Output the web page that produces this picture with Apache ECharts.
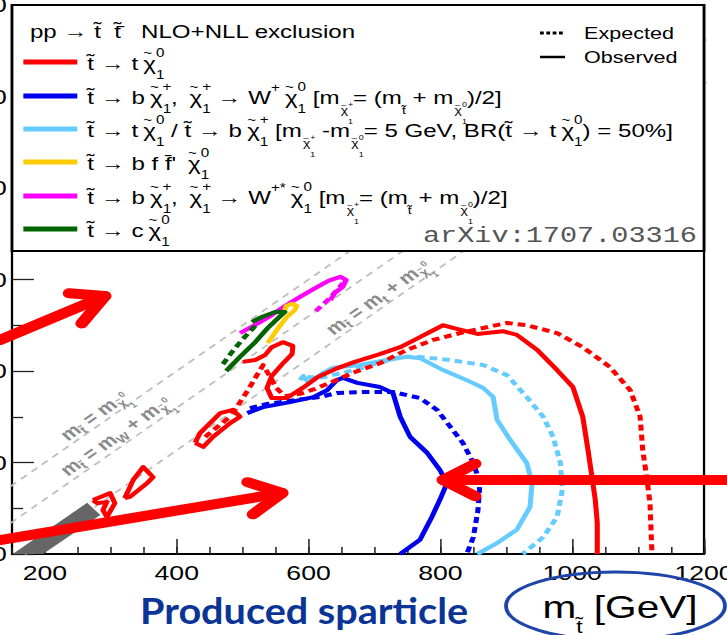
<!DOCTYPE html>
<html>
<head>
<meta charset="utf-8">
<script src="https://cdn.jsdelivr.net/npm/echarts@6/dist/echarts.min.js"></script>
<style>
  html, body { margin: 0; padding: 0; background: #fff; overflow: hidden; }
  #wrap { width: 727px; height: 635px; overflow: hidden; position: relative; background: #fff; }
  /* the summary plot is laid out at 573 px and widened to the 727 px slide width */
  #chart { width: 573px; height: 635px; transform: scaleX(1.268761); transform-origin: 0 0; }
</style>
</head>
<body>
<div id="wrap"><div id="chart"></div></div>
<script>
// ---------------- axes ----------------
const xRange = [150, 1200];
const yRange = [0, 1200];
const xMajorTicks = [200, 400, 600, 800, 1000, 1200];
const xMinorTicks = [150, 200, 250, 300, 350, 400, 450, 500, 550, 600, 650, 700, 750, 800, 850, 900, 950, 1000, 1050, 1100, 1150, 1200];
const yTickStep = 200;

// kinematic boundaries m_stop - m_LSP = offset (GeV)
const kinStop = [100, 1300];
const offEqual = 0;
const offW = 80.4;
const offTop = 173.1;

// ---------------- exclusion contours [m_stop, m_LSP] ----------------
// stop -> t chi0 (red)
const t2ttObs = [[500,420],[519,424],[534,435],[544,452],[561,463],[576,455],[575,437],[560,415],[544,389],[537,363],[544,341],[567,341],[591,363],[614,387],[640,404],[670,420],[708,437],[739,452],[758,466],[781,483],[804,500],[825,492],[856,481],[895,487],[916,479],[947,446],[977,402],[1001,365],[1016,300],[1024,227],[1030,168],[1035,118],[1038,68],[1038,0]];
const t2ttExp = [[484,306],[496,332],[508,358],[520,387],[531,413],[541,389],[551,363],[564,345],[587,350],[610,361],[632,374],[667,396],[708,417],[749,446],[789,468],[830,483],[865,494],[901,505],[931,500],[977,483],[1016,452],[1057,409],[1088,358],[1103,300],[1107,227],[1113,168],[1118,111],[1121,0]];
const t2ttIslandA = [[273,118],[299,133],[306,111],[294,81],[288,96],[294,114],[279,111],[273,118]];
const t2ttIslandB = [[321,122],[334,162],[349,190],[364,168],[355,155],[329,125],[321,122]];
const t2ttIslandC = [[428,243],[435,264],[466,308],[485,315],[496,300],[481,286],[455,256],[440,234],[428,243]];
const t2ttIslandCExp = [[443,256],[478,297]];
// stop -> b chargino, chargino -> W chi0 (blue)
const t6bbwwObs = [[507,308],[531,321],[572,332],[607,343],[628,358],[643,380],[652,385],[674,374],[708,365],[728,352],[739,300],[754,256],[780,221],[799,184],[810,155],[799,118],[787,81],[769,31],[739,0]];
const t6bbwwExp = [[511,319],[537,328],[582,337],[617,343],[643,352],[683,354],[728,354],[769,341],[795,315],[815,278],[834,243],[850,199],[860,155],[857,96],[850,37],[840,0]];
// mixed t chi0 / b chargino (light blue)
const t2tbObs = [[587,380],[592,389],[599,376],[607,380],[622,396],[637,407],[678,413],[719,424],[749,431],[769,428],[804,402],[840,380],[865,363],[880,343],[886,293],[906,249],[931,199],[939,155],[936,103],[916,53],[886,24],[856,0]];
const t2tbExp = [[598,387],[617,385],[658,398],[708,418],[739,431],[765,431],[789,428],[815,424],[865,413],[901,391],[931,343],[956,300],[971,256],[982,199],[985,140],[977,81],[956,37],[925,0]];
// four-body (yellow)
const t2bffObs = [[538,461],[552,490],[567,518],[579,533],[582,542],[575,547],[566,542],[563,529]];
// off-shell W (magenta)
const t6wStarObs = [[496,483],[519,501],[542,520],[564,542],[587,562],[610,581],[630,597],[648,606],[657,599],[652,584],[640,571],[633,555]];
const t6wStarExp = [[611,531],[623,547],[634,562],[643,577],[652,592],[645,608]];
// stop -> c chi0 (green)
const t2ccObs = [[475,400],[496,431],[519,463],[538,494],[557,520],[564,529],[549,529],[529,518],[514,507]];
const t2ccExp = [[470,415],[484,442],[499,468],[516,494],[523,505]];
// region not covered near the top-mass corridor
const corridor = [[151,0],[264,112],[284,85],[197,0]];

// ---------------- style ----------------
const S = 727 / 573;             // horizontal widening of the plot
const FONT = '"Liberation Sans", Arial, Helvetica, sans-serif';
const RED = '#ff0000', BLUE = '#0000f0', LBLUE = '#66ccff', YELLOW = '#ffcc00', MAGENTA = '#ff00ff', GREEN = '#006400';
const DOT = [6, 4];

function contour(data, color, dashed, z) {
  return {
    type: 'line', data: data, xAxisIndex: 0, yAxisIndex: 0,
    showSymbol: false, symbol: 'none', clip: true, silent: true, z: z || 3,
    lineStyle: { color: color, width: 4, type: dashed ? DOT : 'solid', cap: 'butt', join: 'round' }
  };
}
function kinLine(off) {
  return {
    type: 'line', data: kinStop.map(s => [s, s - off]), showSymbol: false, symbol: 'none',
    clip: true, silent: true, z: 1,
    lineStyle: { color: '#bdbdbd', width: 1.6, type: [6, 5] }
  };
}
const plain = v => String(v);

const chart = echarts.init(document.getElementById('chart'), null, { renderer: 'svg' });

chart.setOption({
  animation: false,
  backgroundColor: '#fff',
  grid: { left: 9.46, right: 18.1, top: 5, bottom: 81, containLabel: false, outerBoundsMode: 'none',
          show: true, borderColor: '#000', borderWidth: 1.8, backgroundColor: '#fff' },
  xAxis: [
    {
      type: 'value', min: xRange[0], max: xRange[1], position: 'bottom',
      axisLine: { show: false }, splitLine: { show: false },
      axisTick: { show: true, inside: true, length: 15, customValues: xMajorTicks, lineStyle: { color: '#222', width: 1.2 } },
      axisLabel: { customValues: xMajorTicks, formatter: plain, margin: 8, fontSize: 21, color: '#000', fontFamily: FONT }
    },
    {
      type: 'value', min: xRange[0], max: xRange[1], position: 'bottom',
      axisLine: { show: false }, splitLine: { show: false }, axisLabel: { show: false },
      axisTick: { show: true, inside: true, length: 7, customValues: xMinorTicks, lineStyle: { color: '#222', width: 1.2 } }
    }
  ],
  yAxis: {
    type: 'value', min: yRange[0], max: yRange[1], interval: yTickStep,
    axisLine: { show: false }, splitLine: { show: false },
    axisTick: { show: true, inside: true, length: 17.3, lineStyle: { color: '#222', width: 1.3 } },
    minorTick: { show: true, splitNumber: 2, length: 8.7, lineStyle: { color: '#222', width: 1.3 } },
    minorSplitLine: { show: false },
    axisLabel: { formatter: plain, margin: 4, fontSize: 21, color: '#000', fontFamily: FONT }
  },
  series: [
    kinLine(offEqual), kinLine(offW), kinLine(offTop),
    {
      type: 'custom', silent: true, z: 2, data: [0],
      renderItem: function (params, api) {
        return { type: 'polygon', shape: { points: corridor.map(p => api.coord(p)) }, style: { fill: '#666666' } };
      }
    },
    contour(t2tbExp, LBLUE, true), contour(t2tbObs, LBLUE, false),
    contour(t6bbwwExp, BLUE, true), contour(t6bbwwObs, BLUE, false),
    contour(t2ttExp, RED, true, 4), contour(t2ttObs, RED, false, 4),
    contour(t2ttIslandA, RED, false, 4), contour(t2ttIslandB, RED, false, 4),
    contour(t2ttIslandC, RED, false, 4), contour(t2ttIslandCExp, RED, true, 4),
    contour(t6wStarExp, MAGENTA, true), contour(t6wStarObs, MAGENTA, false),
    contour(t2bffObs, YELLOW, false),
    contour(t2ccExp, GREEN, true, 5), contour(t2ccObs, GREEN, false, 5)
  ]
});

// ---------------- legend, labels and annotations ----------------
const px = p => chart.convertToPixel({ xAxisIndex: 0, yAxisIndex: 0 }, p);

const H = 60;
// a small rich-text piece whose centre sits d px below the main text centre
function tok(fs, d, extra, padLeft) {
  return Object.assign({ fontSize: fs, lineHeight: fs, fontFamily: FONT, verticalAlign: 'bottom',
                         padding: [0, 0, H / 2 - d - fs / 2, padLeft || 0] }, extra || {});
}
const ZW = { width: 0.001 };   // zero advance: the next piece is stacked under it
const legendRich = {
  n: { fontSize: 19, lineHeight: H, fontFamily: FONT, verticalAlign: 'middle' },
  tl: tok(12, -10, ZW, 4),
  Z: tok(12, -10, ZW),
  ci: tok(12, 12),
  ws: tok(12, -9),
  ms: tok(11, 14),
  mt: tok(8, 8, ZW, 1),
  mz: tok(7, 8, ZW),
  mi: tok(7, 25)
};
const T = 't\u0303', AR = '\u2192', NB = '\u00A0';
const X = '{tl|~}{n|\u03C7}';
const XS = '{mt|~}{ms|\u03C7}';
const chi0 = `${X}{Z|0}{ci|1}`;
const chiP = `${X}{Z|+}{ci|1}`;
const mChiP = `{n|m}${XS}{mz|+}{mi|1}`;
const mChi0 = `{n|m}${XS}{mz|0}{mi|1}`;
const mT = `{n|m}{ms|${T}}`;

const legendTitle = `{n|pp ${AR} ${T}${NB} t\u0303\u0304${NB}${NB} NLO+NLL exclusion}`;
const legendRows = [
  { color: RED, text: `{n|${T} ${AR} t}${chi0}` },
  { color: BLUE, text: `{n|${T} ${AR} b}${chiP}{n|, }${chiP}{n| ${AR} W}{ws|+}${chi0}{n| [}${mChiP}{n|= (}${mT}{n| + }${mChi0}{n|)/2]}` },
  { color: LBLUE, text: `{n|${T} ${AR} t}${chi0}{n| / ${T} ${AR} b}${chiP}{n| [}${mChiP}{n| -}${mChi0}{n|= 5 GeV, BR(${T} ${AR} t}${chi0}{n|) = 50%]}` },
  { color: YELLOW, text: `{n|${T} ${AR} b f f\u0304' }${chi0}` },
  { color: MAGENTA, text: `{n|${T} ${AR} b}${chiP}{n|, }${chiP}{n| ${AR} W}{ws|+*}${chi0}{n| [}${mChiP}{n|= (}${mT}{n| + }${mChi0}{n|)/2]}` },
  { color: GREEN, text: `{n|${T} ${AR} c}${chi0}` }
];
const rowY = [62, 96, 129, 162, 196, 229];

const g = [];
// legend frame
g.push({ type: 'rect', z: 20, shape: { x: 9.46, y: 5, width: 545.4, height: 246 }, style: { fill: '#fff', stroke: '#000', lineWidth: 2.2 } });
g.push({ type: 'text', z: 21, x: 23.6, y: 31, style: { text: legendTitle, rich: legendRich, fontFamily: FONT, fontSize: 19, fill: '#000', align: 'left', verticalAlign: 'middle' } });
legendRows.forEach((r, i) => {
  g.push({ type: 'line', z: 21, shape: { x1: 18.4, y1: rowY[i], x2: 60.9, y2: rowY[i] }, style: { stroke: r.color, lineWidth: 5 } });
  g.push({ type: 'text', z: 21, x: 68.8, y: rowY[i] + 1, style: { text: r.text, rich: legendRich, fontFamily: FONT, fontSize: 19, fill: '#000', align: 'left', verticalAlign: 'middle' } });
});
// line-style keys
g.push({ type: 'line', z: 21, shape: { x1: 425.6, y1: 33, x2: 445.3, y2: 33 }, style: { stroke: '#000', lineWidth: 3, lineDash: [3, 2] } });
g.push({ type: 'text', z: 21, x: 460.3, y: 33, style: { text: 'Expected', fontFamily: FONT, fontSize: 17, fill: '#000', align: 'left', verticalAlign: 'middle' } });
g.push({ type: 'line', z: 21, shape: { x1: 425.6, y1: 57, x2: 445.3, y2: 57 }, style: { stroke: '#000', lineWidth: 2.5 } });
g.push({ type: 'text', z: 21, x: 460.3, y: 57, style: { text: 'Observed', fontFamily: FONT, fontSize: 17, fill: '#000', align: 'left', verticalAlign: 'middle' } });
g.push({ type: 'text', z: 21, x: 549.3, y: 236, style: { text: 'arXiv:1707.03316', fontFamily: '"Liberation Mono", "DejaVu Sans Mono", monospace', fontSize: 22.5, fill: '#555', align: 'right', verticalAlign: 'middle' } });

// labels along the kinematic boundaries
const GC = '#8a8a8a';
const diagRich = {
  g: { fontSize: 17, lineHeight: H, fontWeight: 'bold', fontFamily: FONT, verticalAlign: 'middle', color: GC },
  s: tok(11, 6, { fontWeight: 'bold', color: GC }),
  t: tok(8, 1, { width: 0.001, fontWeight: 'bold', color: GC }, 1),
  z: tok(8, -1, { width: 0.001, fontWeight: 'bold', color: GC }),
  i: tok(8, 13, { fontWeight: 'bold', color: GC })
};
const GX = '{t|~}{s|\u03C7}{z|0}{i|1}';
const pa = px([300, 300]), pb = px([900, 900]);
const diagAngle = Math.atan2(pa[1] - pb[1], pb[0] - pa[0]);
const diagLabels = [
  { at: [227, 256], text: `{g|m}{s|${T}}{g| = m}${GX}` },
  { at: [227, 179], text: `{g|m}{s|${T}}{g| = m}{s|W}{g| + m}${GX}` },
  { at: [630, 487], text: `{g|m}{s|${T}}{g| = m}{s|t}{g| + m}${GX}` }
];
diagLabels.forEach(l => {
  const p = px(l.at);
  g.push({ type: 'text', z: 6, x: p[0], y: p[1], rotation: diagAngle, style: { text: l.text, rich: diagRich, fontFamily: FONT, fontSize: 17, fill: GC, align: 'left', verticalAlign: 'middle' } });
});

// axis title
const titleRich = {
  a: { fontSize: 32, lineHeight: H, fontFamily: FONT, verticalAlign: 'middle' },
  s: tok(18, 19)
};
g.push({ type: 'text', z: 21, x: 427.5, y: 607, style: { text: `{a|m}{s|${T}}{a| [GeV]}`, rich: titleRich, fontFamily: FONT, fontSize: 32, fill: '#000', align: 'left', verticalAlign: 'middle' } });

// slide annotations: highlight ring, caption and arrows
g.push({ type: 'ellipse', z: 22, shape: { cx: 615.5 / S, cy: 606, rx: 109.5 / S, ry: 34 }, style: { fill: 'none', stroke: '#1f45a8', lineWidth: 3 } });
g.push({ type: 'text', z: 22, x: 140 / S, y: 610, scaleX: 1.10 / S, style: { text: 'Produced sparticle', fontFamily: 'Lato, "Open Sans", sans-serif', fontWeight: 'bold', fontSize: 36, fill: '#0a3597', align: 'left', verticalAlign: 'middle' } });

const arrows = [
  { tail: [131.8, 467.8], tip: [291.1, 564.0] },
  { tail: [131.8, 30.6], tip: [559.7, 133.3] },
  { tail: [1234.9, 161.7], tip: [804.0, 161.7] }
];
arrows.forEach(a => {
  const t0 = px(a.tail), t1 = px(a.tip);
  const tail = [t0[0] * S, t0[1]], tip = [t1[0] * S, t1[1]];
  const len = Math.hypot(tail[0] - tip[0], tail[1] - tip[1]);
  const ux = (tail[0] - tip[0]) / len, uy = (tail[1] - tip[1]) / len;
  const wing = (ang) => {
    const c = Math.cos(ang), s = Math.sin(ang);
    return [(tip[0] + 36 * (ux * c - uy * s)) / S, tip[1] + 36 * (ux * s + uy * c)];
  };
  const stroke = { stroke: '#ff0000', lineWidth: 10, lineCap: 'round', lineJoin: 'round', fill: null };
  g.push({ type: 'polyline', z: 23, shape: { points: [[tail[0] / S, tail[1]], [tip[0] / S, tip[1]]] }, style: stroke });
  g.push({ type: 'polyline', z: 23, shape: { points: [wing(0.47), [tip[0] / S, tip[1]], wing(-0.47)] }, style: stroke });
});

chart.setOption({ graphic: { elements: g } });
</script>
</body>
</html>
